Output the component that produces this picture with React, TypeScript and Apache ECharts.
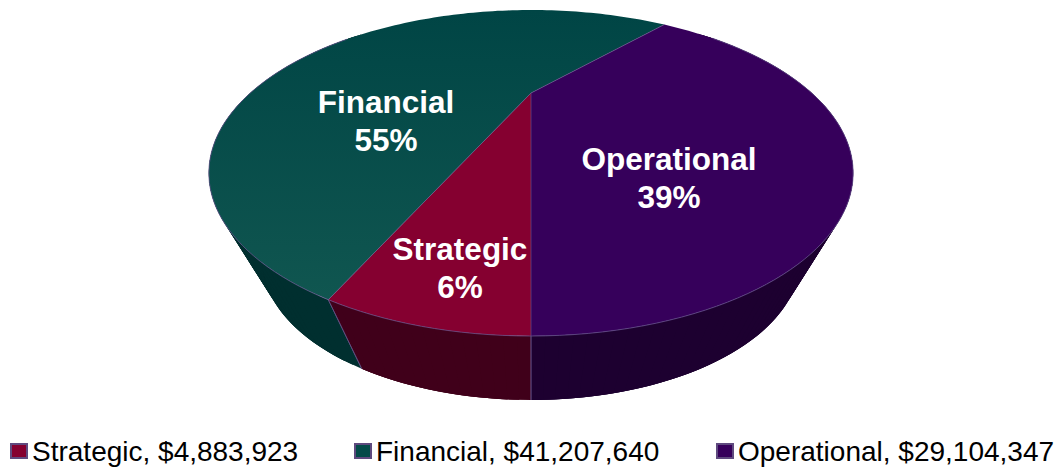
import React, { useEffect, useRef } from "react";
import * as echarts from "echarts";

const categories = ["Strategic", "Financial", "Operational"];
const amounts = [4883923, 41207640, 29104347];
const amountLabels = ["$4,883,923", "$41,207,640", "$29,104,347"];
const faceColors = ["#850030", "#044a49", "#36005b"];
const wallColors = ["#40001a", "#002f2f", "#1d0030"];

const FIRST_SLICE_START = 180; // degrees clockwise from the far side of the disc
const EDGE = "#6a5790";
const LABEL_CENTERS = [[460, 268], [386, 121], [669, 178]];
const LEGEND_LEFT = [10, 354, 716];

// Perspective of the disc: circle -> image plane
const CX = 531;
const K = 280.7, A = 78.1, B = 93, C = -0.4908;
const WALL_SX = 0.835, WALL_SY = 0.86, WALL_Y = 111;

function top(deg: number): number[] {
  const t = (deg * Math.PI) / 180;
  const v = Math.sin(t);
  const u = -Math.cos(t);
  const d = 1 + C * u;
  return [CX + (K * v) / d, (A * u + B) / d];
}
function bottom(deg: number): number[] {
  const p = top(deg);
  return [CX + (p[0] - CX) * WALL_SX, WALL_Y + p[1] * WALL_SY];
}

const total = amounts.reduce((a, b) => a + b, 0);
const sliceAngles = (() => {
  let s = FIRST_SLICE_START;
  return amounts.map((v) => {
    const e = s + (v / total) * 360;
    const r = [s, e];
    s = e;
    return r;
  });
})();

function steps(s: number, e: number): number[] {
  const n = Math.max(2, Math.ceil((e - s) / 1.5));
  const out: number[] = [];
  for (let i = 0; i <= n; i++) out.push(s + ((e - s) * i) / n);
  return out;
}
function isFront(deg: number): boolean {
  const d = ((deg % 360) + 360) % 360;
  return d > 55 && d < 305;
}

function makeRender(idx: number) {
  return () => {
    const [s, e] = sliceAngles[idx];
    const angles = steps(s, e);
    const children: any[] = [];
    for (let i = 0; i < angles.length - 1; i++) {
      const a = angles[i];
      // each wall piece overlaps its neighbour so that no seams show
      const b = angles[Math.min(i + 3, angles.length - 1)];
      if (!isFront(a) && !isFront(b)) continue;
      children.push({
        type: "polygon",
        z2: 1,
        shape: { points: [top(a), top((a + b) / 2), top(b), bottom(b), bottom((a + b) / 2), bottom(a)] },
        style: { fill: wallColors[idx], stroke: null },
        silent: true,
      });
    }
    const arc = angles.map(top);
    const apex = [CX, B];
    const fill =
      idx === 1
        ? {
            type: "linear", x: 0, y: 0, x2: 0, y2: 1,
            colorStops: [
              { offset: 0, color: "#004545" },
              { offset: 1, color: "#105650" },
            ],
          }
        : faceColors[idx];
    children.push({
      type: "polygon",
      z2: 2,
      shape: { points: [apex, ...arc] },
      style: { fill, stroke: null },
      silent: true,
    });
    // bright hairlines: radial edges, near rim and wall seams
    const frontArc = angles.filter(isFront).map(top);
    if (frontArc.length > 1) {
      children.push({
        type: "polyline",
        z2: 3,
        shape: { points: frontArc },
        style: { fill: null, stroke: EDGE, lineWidth: 1, opacity: 0.75 },
        silent: true,
      });
    }
    [s, e].forEach((a) => {
      children.push({
        type: "line",
        z2: 3,
        shape: { x1: apex[0], y1: apex[1], x2: top(a)[0], y2: top(a)[1] },
        style: { stroke: EDGE, lineWidth: 0.8, opacity: 0.45 },
        silent: true,
      });
      if (isFront(a)) {
        children.push({
          type: "line",
          z2: 3,
          shape: { x1: top(a)[0], y1: top(a)[1], x2: bottom(a)[0], y2: bottom(a)[1] },
          style: { stroke: EDGE, lineWidth: 1, opacity: 0.6 },
          silent: true,
        });
      }
    });
    const pct = Math.round((amounts[idx] / total) * 100);
    children.push({
      type: "text",
      z2: 5,
      x: LABEL_CENTERS[idx][0],
      y: LABEL_CENTERS[idx][1],
      style: {
        text: `${categories[idx]}\n${pct}%`,
        fill: "#ffffff",
        font: 'bold 31.5px "Liberation Sans", Arial, sans-serif',
        lineHeight: 38,
        align: "center",
        verticalAlign: "middle",
      },
      silent: true,
    });
    return { type: "group", children };
  };
}

export default function App() {
  const ref = useRef<HTMLDivElement>(null);
  useEffect(() => {
    const chart = echarts.init(ref.current!, undefined, { renderer: "svg" });
    const names = categories.map((c, i) => `${c}, ${amountLabels[i]}`);
    chart.setOption({
      animation: false,
      backgroundColor: "#ffffff",
      legend: names.map((n, i) => ({
        data: [n],
        left: LEGEND_LEFT[i],
        top: 437,
        padding: 0,
        icon: "rect",
        itemWidth: 16,
        itemHeight: 14,
        selectedMode: false,
        itemStyle: { borderColor: "#5f4a7f", borderWidth: 2 },
        textStyle: {
          fontFamily: '"Liberation Sans", Arial, sans-serif',
          fontSize: 28,
          color: "#000000",
          padding: [0, 0, 0, 0],
        },
      })),
      series: names.map((n, i) => ({
        type: "custom",
        name: n,
        coordinateSystem: "none",
        silent: true,
        itemStyle: { color: faceColors[i] },
        data: [[amounts[i]]],
        renderItem: makeRender(i),
      })),
    });
    return () => chart.dispose();
  }, []);
  return (
    <div
      ref={ref}
      style={{ position: "fixed", left: 0, top: 0, width: 1057, height: 469 }}
    />
  );
}
